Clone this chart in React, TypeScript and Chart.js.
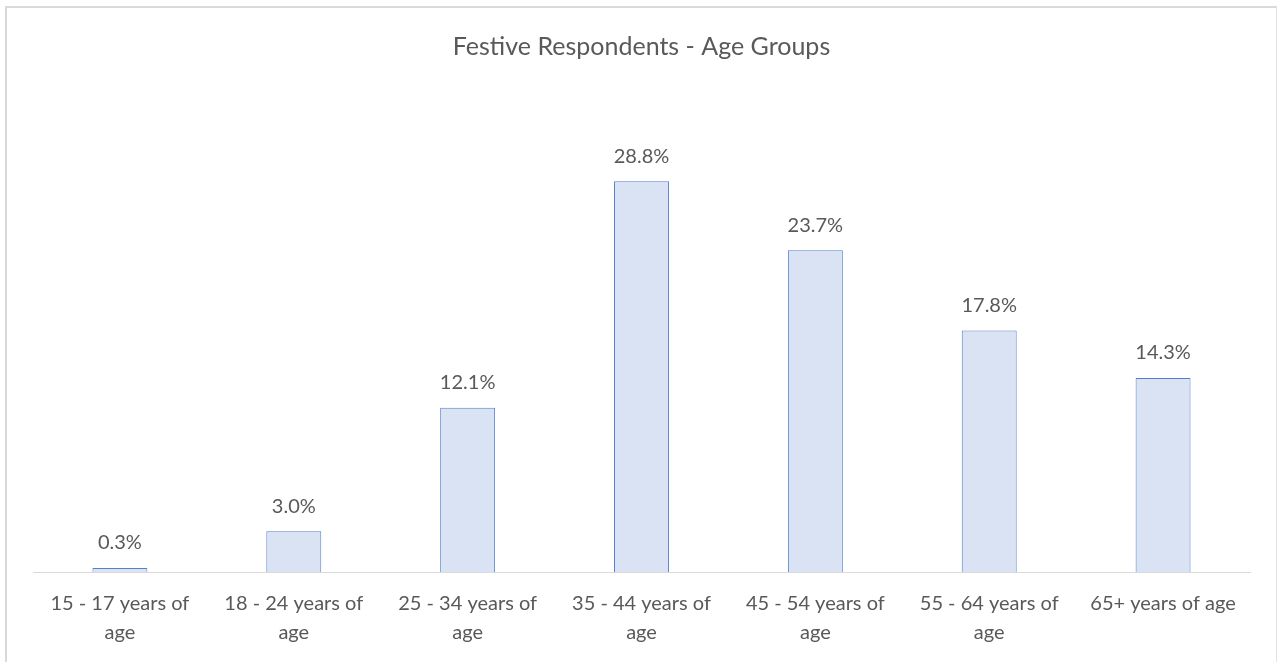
import React, { useEffect, useRef } from "react";
import { Chart, registerables } from "chart.js";

Chart.register(...registerables);

const categories: string[][] = [
  ["15 - 17 years of", "age"],
  ["18 - 24 years of", "age"],
  ["25 - 34 years of", "age"],
  ["35 - 44 years of", "age"],
  ["45 - 54 years of", "age"],
  ["55 - 64 years of", "age"],
  ["65+ years of age"],
];
const values: number[] = [0.3, 3.0, 12.1, 28.8, 23.7, 17.8, 14.3];
const titleText = "Festive Respondents - Age Groups";

const FONT = "Lato, 'Open Sans', sans-serif";
const TEXT = "#595959";

const labelPlugin = {
  id: "barLabels",
  afterDatasetsDraw(chart: any) {
    const ctx = chart.ctx;
    const meta = chart.getDatasetMeta(0);
    ctx.save();
    ctx.font = `20px ${FONT}`;
    ctx.fillStyle = TEXT;
    ctx.textAlign = "center";
    ctx.textBaseline = "middle";
    meta.data.forEach((bar: any, i: number) => {
      ctx.fillText(values[i].toFixed(1) + "%", bar.x, bar.y - 25);
    });
    ctx.restore();
  },
};

export default function App() {
  const ref = useRef<HTMLCanvasElement | null>(null);
  useEffect(() => {
    if (!ref.current) return;
    const chart = new Chart(ref.current, {
      type: "bar",
      data: {
        labels: categories,
        datasets: [
          {
            data: values,
            backgroundColor: "#DAE3F3",
            borderColor: "#5282CC",
            borderWidth: 1,
            barPercentage: 0.316,
            categoryPercentage: 1,
          },
        ],
      },
      options: {
        responsive: false,
        animation: false,
        layout: { padding: { left: 33, right: 27, top: 0, bottom: 0 } },
        plugins: {
          legend: { display: false },
          tooltip: { enabled: false },
          title: {
            display: true,
            text: titleText,
            color: TEXT,
            font: { family: FONT, size: 25, weight: "normal", lineHeight: 1.2 },
            padding: { top: 32, bottom: 35 },
          },
        },
        scales: {
          x: {
            grid: { display: false, drawTicks: false },
            border: { display: true, color: "#D9D9D9", width: 1 },
            ticks: {
              color: TEXT,
              font: { family: FONT, size: 20, lineHeight: 1.45 },
              padding: 17,
              maxRotation: 0,
              autoSkip: false,
            },
            afterFit: (axis: any) => {
              axis.height = 90;
            },
          },
          y: {
            display: false,
            min: 0,
            max: 35,
          },
        },
      },
      plugins: [labelPlugin],
    });
    return () => chart.destroy();
  }, []);
  return (
    <div style={{ position: "fixed", left: 0, top: 0, width: 1277, height: 662, background: "#fff" }}>
      <div
        style={{
          position: "absolute",
          left: 5,
          top: 6,
          width: 1269,
          height: 700,
          borderTop: "2px solid #D9D9D9",
          borderLeft: "2px solid #D9D9D9",
          borderRight: "1px solid #E3E3E3",
        }}
      />
      <canvas ref={ref} width={1277} height={662} style={{ position: "absolute", left: 0, top: 0 }} />
    </div>
  );
}
